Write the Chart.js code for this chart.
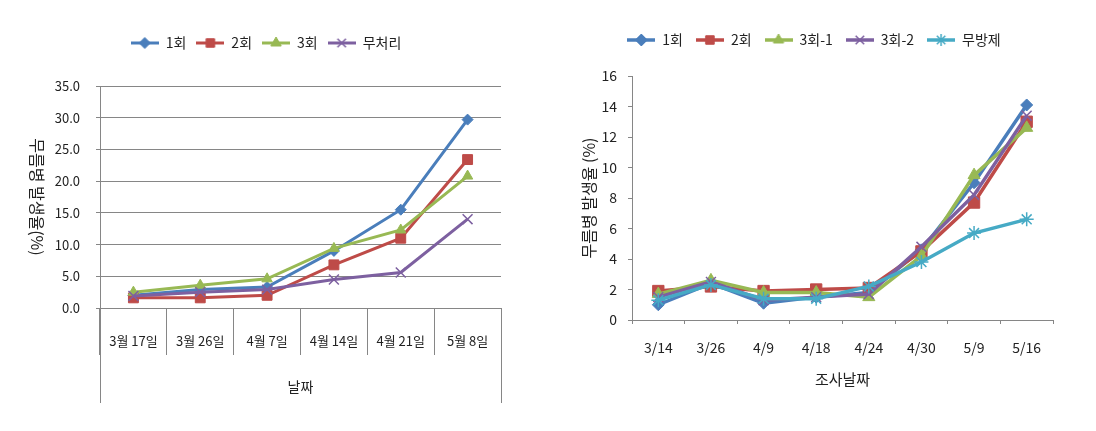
<!DOCTYPE html>
<html>
<head>
<meta charset="utf-8">
<script src="https://cdn.jsdelivr.net/npm/chart.js@4.4.1/dist/chart.umd.min.js"></script>
<style>
  html, body { margin: 0; padding: 0; background: #fff; }
  #wrap { position: relative; width: 1096px; height: 431px; }
  .box { position: absolute; top: 0; height: 431px; }
</style>
</head>
<body>
<div id="wrap">
  <div class="box" style="left:0;width:550px"><canvas id="leftChart"></canvas></div>
  <div class="box" style="left:560px;width:536px"><canvas id="rightChart"></canvas></div>
</div>
<script>
// left chart data
const leftDates = ['3월 17일', '3월 26일', '4월 7일', '4월 14일', '4월 21일', '5월 8일'];
const leftOnce = [2.0, 2.9, 3.3, 9.0, 15.5, 29.7];
const leftTwice = [1.6, 1.6, 2.0, 6.8, 11.0, 23.4];
const leftThrice = [2.5, 3.6, 4.6, 9.4, 12.3, 20.8];
const leftUntreated = [1.9, 2.5, 2.9, 4.5, 5.6, 14.0];
const leftTicks = [0, 5, 10, 15, 20, 25, 30, 35];

// right chart data
const rightDates = ['3/14', '3/26', '4/9', '4/18', '4/24', '4/30', '5/9', '5/16'];
const rightOnce = [1.0, 2.4, 1.1, 1.5, 1.8, 4.6, 9.0, 14.1];
const rightTwice = [1.9, 2.2, 1.9, 2.0, 2.1, 4.5, 7.7, 13.0];
const rightThrice1 = [1.7, 2.6, 1.8, 1.8, 1.5, 4.2, 9.5, 12.6];
const rightThrice2 = [1.5, 2.5, 1.3, 1.5, 1.7, 4.8, 8.2, 13.4];
const rightNoSpray = [1.3, 2.3, 1.4, 1.4, 2.2, 3.8, 5.7, 6.6];
const rightTicks = [0, 2, 4, 6, 8, 10, 12, 14, 16];

const fontFamily = "'Noto Sans CJK KR', 'Noto Sans', sans-serif";
const textColor = '#222';
const axisColor = '#868686';

const blue = '#4A7EBB', red = '#BE4B48', green = '#98B954', purple = '#7D60A0', cyan = '#46AAC5';

// small line + marker icon for the legend
function legendIcon(color, style, radius, lineWidth) {
    const c = document.createElement('canvas');
    c.width = 28; c.height = 16;
    const ctx = c.getContext('2d');
    ctx.strokeStyle = color;
    ctx.lineWidth = lineWidth;
    ctx.beginPath(); ctx.moveTo(0, 8); ctx.lineTo(28, 8); ctx.stroke();
    ctx.fillStyle = color;
    const cross = style === 'crossRot' || style === 'star';
    ctx.lineWidth = cross ? 1.5 : 1;
    Chart.helpers.drawPoint(ctx, { pointStyle: style, radius: radius, rotation: 0, borderWidth: ctx.lineWidth }, 14, 8);
    return c;
}

function series(label, data, color, style, radius, lineWidth, idx) {
    const cross = style === 'crossRot' || style === 'star';
    return {
        label: label,
        data: data,
        borderColor: color,
        backgroundColor: color,
        borderWidth: lineWidth,
        pointStyle: style,
        pointRadius: radius,
        pointHoverRadius: radius,
        pointBackgroundColor: color,
        pointBorderColor: color,
        pointBorderWidth: cross ? 1.5 : 1,
        tension: 0,
        fill: false,
        order: -idx,
        _icon: legendIcon(color, style, Math.min(radius, 6), lineWidth)
    };
}

function legendLabels(chart) {
    return chart.data.datasets.map((ds, i) => ({
        text: ds.label,
        pointStyle: ds._icon,
        datasetIndex: i,
        hidden: false,
        fillStyle: ds.borderColor,
        strokeStyle: ds.borderColor,
        lineWidth: 0,
        fontColor: textColor
    }));
}

// extra space under the legend, like the gap in the original
const legendGap = {
    id: 'legendGap',
    beforeLayout(chart, args, opts) {
        if (chart.legend && !chart.legend._gapDone) {
            const fit = chart.legend.fit;
            chart.legend.fit = function () { fit.call(this); this.height += opts.gap; };
            chart.legend._gapDone = true;
        }
    }
};

// left chart: outer lines of the grouped category axis and vertical title
const leftExtras = {
    id: 'leftExtras',
    afterDraw(chart) {
        const { ctx, chartArea } = chart;
        const x = chart.scales.x;
        ctx.save();
        ctx.strokeStyle = axisColor;
        ctx.lineWidth = 1;
        ctx.beginPath();
        ctx.moveTo(Math.round(chartArea.left) + 0.5, chartArea.bottom);
        ctx.lineTo(Math.round(chartArea.left) + 0.5, x.bottom);
        ctx.moveTo(Math.round(chartArea.right) + 0.5, chartArea.bottom);
        ctx.lineTo(Math.round(chartArea.right) + 0.5, x.bottom);
        ctx.stroke();
        ctx.translate(37, (chartArea.top + chartArea.bottom) / 2);
        ctx.rotate(Math.PI / 2);
        ctx.fillStyle = textColor;
        ctx.font = "16px " + fontFamily;
        ctx.textAlign = 'center';
        ctx.textBaseline = 'middle';
        ctx.fillText('무름병 발생율(%)', 0, 0);
        ctx.restore();
    }
};

new Chart(document.getElementById('leftChart'), {
    type: 'line',
    data: {
        labels: leftDates,
        datasets: [
            series('1회', leftOnce, blue, 'rectRot', 5.5, 3, 0),
            series('2회', leftTwice, red, 'rect', 7, 3, 1),
            series('3회', leftThrice, green, 'triangle', 6, 3, 2),
            series('무처리', leftUntreated, purple, 'crossRot', 7, 3, 3)
        ]
    },
    options: {
        responsive: true,
        maintainAspectRatio: false,
        animation: false,
        layout: { padding: { left: 31, right: 49, top: 26, bottom: 28 } },
        plugins: {
            legend: {
                position: 'top',
                labels: {
                    usePointStyle: true,
                    pointStyleWidth: 28,
                    padding: 10,
                    color: textColor,
                    font: { family: fontFamily, size: 14 },
                    generateLabels: legendLabels
                }
            },
            legendGap: { gap: 26 },
            tooltip: { enabled: false }
        },
        scales: {
            x: {
                offset: true,
                afterFit: s => { s.height = 95; },
                grid: { offset: true, drawOnChartArea: false, drawTicks: true, tickLength: 47, color: axisColor },
                border: { display: true, color: axisColor },
                ticks: { padding: -22, color: textColor, font: { family: fontFamily, size: 13 }, maxRotation: 0, autoSkip: false },
                title: { display: true, text: '날짜', color: textColor, font: { family: fontFamily, size: 14 }, padding: { top: 0, bottom: 8 } }
            },
            y: {
                min: 0,
                max: 35,
                afterFit: s => { s.width = 69; },
                afterBuildTicks: s => { s.ticks = leftTicks.map(v => ({ value: v })); },
                grid: { color: axisColor, tickLength: 4 },
                border: { display: true, color: axisColor },
                ticks: { padding: 16, color: textColor, font: { family: fontFamily, size: 13 }, callback: v => v.toFixed(1) }
            }
        }
    },
    plugins: [legendGap, leftExtras]
});

new Chart(document.getElementById('rightChart'), {
    type: 'line',
    data: {
        labels: rightDates,
        datasets: [
            series('1회', rightOnce, blue, 'rectRot', 6, 3.5, 0),
            series('2회', rightTwice, red, 'rect', 8, 3.5, 1),
            series('3회-1', rightThrice1, green, 'triangle', 7, 3.5, 2),
            series('3회-2', rightThrice2, purple, 'crossRot', 7, 3.5, 3),
            series('무방제', rightNoSpray, cyan, 'star', 7, 3.5, 4)
        ]
    },
    options: {
        responsive: true,
        maintainAspectRatio: false,
        animation: false,
        layout: { padding: { left: 15, right: 43, top: 20, bottom: 35 } },
        plugins: {
            legend: {
                position: 'top',
                labels: {
                    usePointStyle: true,
                    pointStyleWidth: 28,
                    padding: 13,
                    color: textColor,
                    font: { family: fontFamily, size: 14 },
                    generateLabels: legendLabels
                }
            },
            legendGap: { gap: 19 },
            tooltip: { enabled: false }
        },
        scales: {
            x: {
                offset: true,
                afterFit: s => { s.height = 76; },
                grid: { offset: true, drawOnChartArea: false, drawTicks: true, tickLength: 4, color: axisColor },
                border: { display: true, color: axisColor },
                ticks: { padding: 15, color: textColor, font: { family: fontFamily, size: 14 }, maxRotation: 0, autoSkip: false },
                title: { display: true, text: '조사날짜', color: textColor, font: { family: fontFamily, size: 15 }, padding: { top: 0, bottom: 8 } }
            },
            y: {
                min: 0,
                max: 16,
                afterFit: s => { s.width = 57; },
                afterBuildTicks: s => { s.ticks = rightTicks.map(v => ({ value: v })); },
                grid: { drawOnChartArea: false, tickLength: 4, color: axisColor },
                border: { display: true, color: axisColor },
                ticks: { padding: 11, color: textColor, font: { family: fontFamily, size: 14 } },
                title: { display: true, text: '무름병 발생율 (%)', color: textColor, font: { family: fontFamily, size: 16 }, padding: { top: 4, bottom: 0 } }
            }
        }
    },
    plugins: [legendGap]
});
</script>
</body>
</html>
